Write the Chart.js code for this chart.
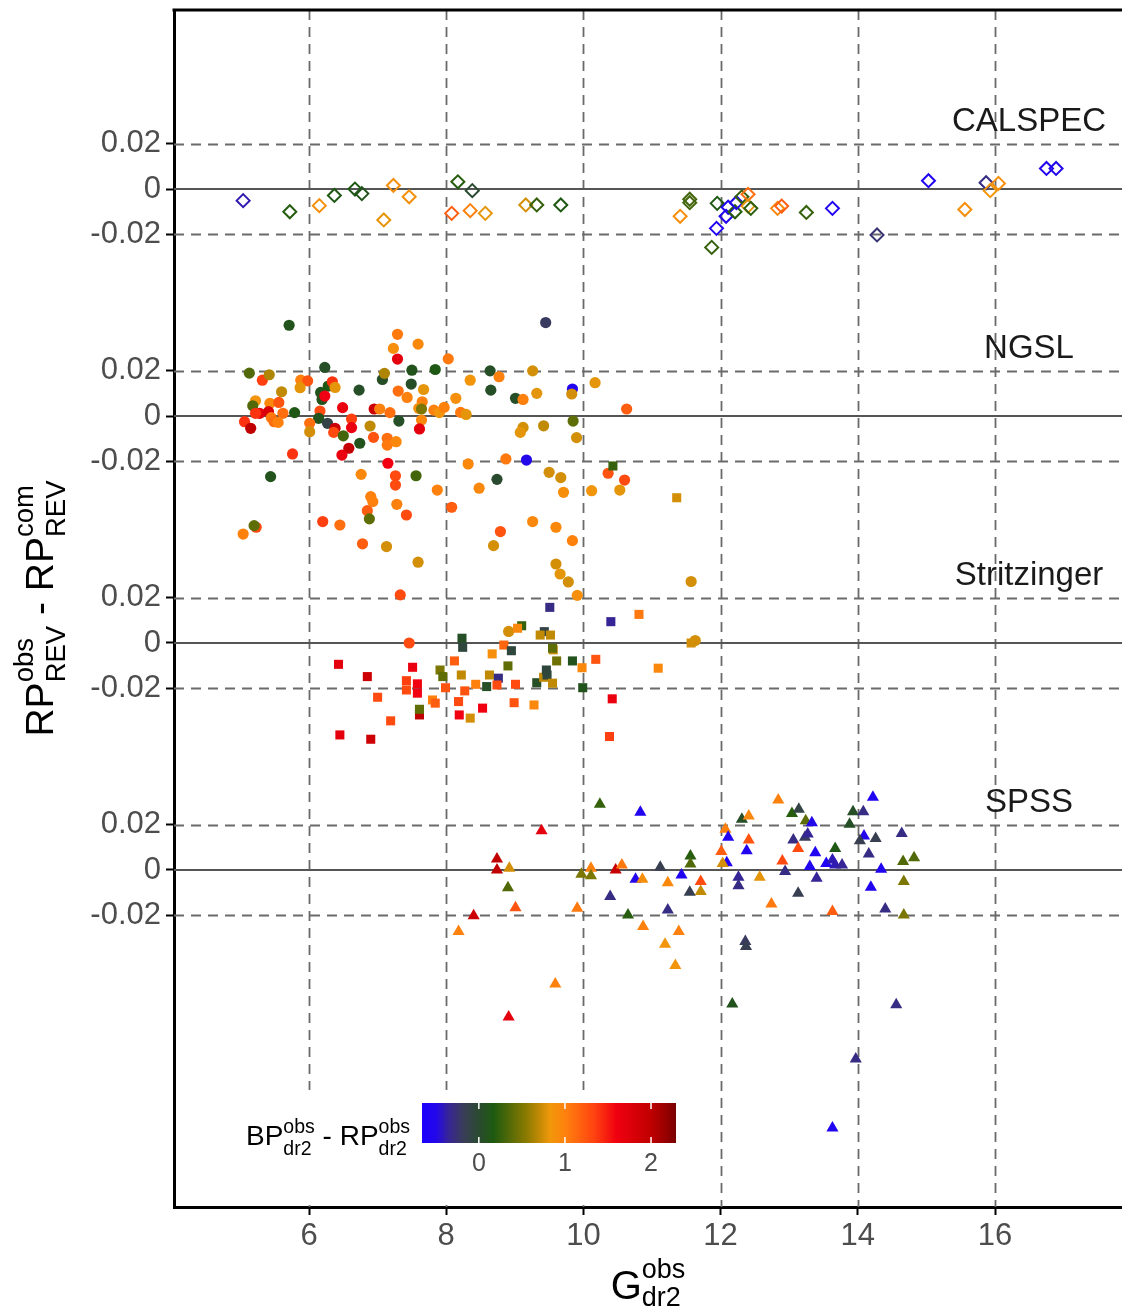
<!DOCTYPE html>
<html>
<head>
<meta charset="utf-8">
<title>RP residuals</title>
<script src="https://cdn.jsdelivr.net/npm/chart.js@4.4.1/dist/chart.umd.min.js"></script>
<style>
  html, body { margin: 0; padding: 0; background: #fff; }
  canvas { display: block; }
</style>
</head>
<body>
<canvas id="resChart" width="1122" height="1312"></canvas>
<script>
// ====================================================
// Data (G mag, residual, BP-RP colour) per library
// ====================================================
const calspecG = [5.04,5.72,6.15,6.37,6.67,6.77,7.23,7.09,7.46,8.17,8.38,8.08,8.35,8.57,9.16,9.32,9.67,11.55,11.55,11.41,11.95,12.11,12.08,11.94,11.87,12.21,12.23,12.31,12.40,12.40,12.44,12.83,12.89,13.25,13.63,14.28,15.03,15.56,15.87,16.05,15.93,16.75,16.89];
const calspecRes = [-0.0051,-0.0100,-0.0073,-0.0028,0.0000,-0.0020,0.0016,-0.0136,-0.0034,0.0032,-0.0007,-0.0107,-0.0095,-0.0107,-0.0070,-0.0070,-0.0070,-0.0045,-0.0060,-0.0120,-0.0063,-0.0080,-0.0120,-0.0173,-0.0257,-0.0100,-0.0060,-0.0034,-0.0023,-0.0075,-0.0085,-0.0085,-0.0075,-0.0103,-0.0085,-0.0202,0.0037,-0.0090,0.0028,0.0025,-0.0007,0.0091,0.0091];
const calspecCol = [-0.4,0.2,0.9,0.15,0.15,0.1,0.9,0.8,0.9,0.2,0.0,1.2,1.0,0.8,0.75,0.25,0.15,0.3,0.3,0.9,0.15,-0.5,-0.55,-0.55,0.25,0.2,-0.5,0.25,1.1,0.8,0.2,0.95,1.2,0.25,-0.55,-0.25,-0.55,0.9,-0.3,0.9,0.85,-0.55,-0.5];

const ngslG = [5.71,7.29,7.59,7.23,7.29,8.03,5.13,5.32,5.42,6.23,5.88,5.98,5.87,5.60,5.22,5.18,5.43,5.56,5.28,5.22,5.41,5.62,5.79,5.06,5.15,5.45,5.49,5.55,5.76,5.44,
  6.17,6.28,6.34,6.38,6.19,6.23,6.16,6.14,6.27,6.01,6.01,6.38,6.36,6.50,6.49,6.62,6.62,6.73,6.74,6.58,6.48,6.95,7.03,7.18,6.89,6.94,7.14,7.14,7.27,7.15,
  7.07,7.10,7.30,7.43,7.49,7.50,7.84,7.67,7.65,7.60,7.64,7.82,7.90,7.97,7.64,7.31,7.61,8.14,8.35,8.21,8.29,8.32,6.76,7.26,7.56,
  7.26,6.90,6.93,6.85,6.88,7.28,7.42,7.87,8.08,5.23,5.20,5.04,6.20,6.45,6.78,7.13,7.59,7.33,
  9.45,8.64,9.26,8.77,8.65,9.01,9.12,9.32,9.84,9.83,10.17,10.63,9.12,9.08,9.42,9.85,9.90,8.87,9.17,8.74,8.48,9.50,9.67,9.71,10.12,10.36,10.60,10.53,
  9.26,9.60,8.79,9.84,8.69,9.60,9.66,9.78,9.91,11.57,7.46,8.91,11.63];
const ngslRes = [0.0400,0.0360,0.0317,0.0298,0.0251,0.0252,0.0189,0.0158,0.0182,0.0214,0.0158,0.0155,0.0125,0.0107,0.0067,0.0045,0.0056,0.0060,0.0012,0.0012,0.0019,0.0012,0.0015,-0.0025,-0.0054,-0.0007,-0.0025,-0.0028,-0.0167,-0.0267,
  0.0104,0.0132,0.0151,0.0126,0.0073,0.0088,0.0022,-0.0010,-0.0032,-0.0032,-0.0069,-0.0054,-0.0072,-0.0087,0.0037,-0.0013,-0.0051,0.0114,-0.0120,-0.0142,-0.0172,0.0031,0.0031,0.0015,-0.0044,-0.0094,-0.0098,-0.0128,-0.0113,-0.0208,
  0.0161,0.0188,0.0110,0.0082,0.0141,0.0202,0.0205,0.0117,0.0063,0.0034,0.0031,0.0026,0.0015,0.0038,-0.0018,-0.0022,-0.0057,0.0078,0.0158,0.0016,0.0007,-0.0211,-0.0257,-0.0263,-0.0263,
  -0.0304,-0.0355,-0.0377,-0.0417,-0.0453,-0.0389,-0.0436,-0.0326,-0.0402,-0.0490,-0.0483,-0.0520,-0.0465,-0.0480,-0.0563,-0.0575,-0.0644,-0.0788,
  0.0412,0.0199,0.0199,0.0173,0.0114,0.0078,0.0073,0.0100,0.0119,0.0097,0.0147,0.0031,-0.0050,-0.0072,-0.0043,-0.0022,-0.0095,-0.0189,-0.0194,-0.0279,-0.0318,-0.0248,-0.0271,-0.0336,-0.0329,-0.0252,-0.0282,-0.0326,
  -0.0465,-0.0490,-0.0509,-0.0549,-0.0571,-0.0652,-0.0696,-0.0731,-0.0790,-0.0729,-0.1000,-0.0949,-0.0989];
const ngslCol = [0.1,1.05,0.95,0.9,1.7,1.05,0.35,1.35,0.65,0.05,1.0,1.25,0.8,0.7,0.85,0.35,0.95,1.25,1.7,1.4,1.8,1.1,0.15,1.4,2.0,1.05,1.1,1.0,1.4,0.1,
  0.1,0.15,1.4,0.8,0.1,1.6,1.3,0.1,-0.1,1.1,0.75,1.9,1.3,0.3,1.65,1.35,1.65,0.05,0.1,1.95,1.65,1.9,1.0,1.1,0.7,1.25,1.1,1.05,0.95,1.6,
  0.05,0.65,1.1,1.0,0.05,0.1,0.15,0.8,1.0,0.9,0.5,1.0,0.85,1.0,0.95,0.05,1.7,0.9,0.85,1.05,0.8,0.95,0.95,1.3,0.3,
  1.3,1.0,1.0,1.2,0.4,1.0,1.3,1.0,1.2,1.3,0.4,1.0,1.35,1.1,1.2,0.75,0.75,1.3,
  -0.2,0.05,0.75,1.0,0.05,0.05,1.0,0.8,-0.55,0.75,0.8,1.2,0.75,0.8,0.7,0.4,0.75,1.05,-0.5,0.0,0.95,0.75,0.75,0.9,0.85,1.25,1.3,0.8,
  0.95,0.95,1.25,1.0,0.75,0.75,0.8,0.75,0.9,0.75,1.3,0.75,0.75];

const stritzG = [9.51,10.40,10.81,9.10,9.04,9.43,9.37,9.52,8.23,8.24,8.84,8.67,8.95,9.56,9.55,9.61,9.84,9.98,10.18,11.09,
  6.43,6.85,7.51,7.42,7.58,7.42,7.58,7.91,7.95,8.12,8.22,7.99,8.27,8.43,8.63,8.76,8.59,8.74,9.01,8.90,
  9.32,9.42,9.46,9.47,9.55,9.99,7.00,7.80,7.84,7.61,7.61,8.18,8.19,8.35,8.53,8.99,9.28,10.42,7.19,6.45,6.90,10.38,10.43,11.36,11.57];
const stritzRes = [0.0157,0.0094,0.0126,0.0076,0.0065,0.0050,0.0035,0.0035,0.0021,-0.0019,-0.0009,-0.0048,-0.0034,-0.0030,-0.0023,-0.0079,-0.0079,-0.0109,-0.0072,-0.0111,
  -0.0094,-0.0148,-0.0107,-0.0166,-0.0180,-0.0207,-0.0221,-0.0119,-0.0148,-0.0079,-0.0141,-0.0197,-0.0211,-0.0182,-0.0141,-0.0155,-0.0192,-0.0185,-0.0182,-0.0101,
  -0.0175,-0.0151,-0.0119,-0.0141,-0.0177,-0.0197,-0.0239,-0.0251,-0.0265,-0.0317,-0.0292,-0.0258,-0.0317,-0.0331,-0.0287,-0.0263,-0.0273,-0.0246,-0.0343,-0.0405,-0.0424,-0.0412,0.0780,0.0640,0.0000];
const stritzCol = [-0.3,-0.35,1.05,0.25,0.95,-0.1,0.7,0.7,0.05,-0.05,1.15,0.9,-0.05,0.7,0.4,0.45,0.1,0.95,1.25,0.95,
  1.7,1.9,1.65,1.35,1.6,1.3,1.6,0.5,0.4,1.2,0.7,1.25,1.25,1.0,0.7,-0.3,0.05,1.3,1.3,0.4,
  0.05,0.7,-0.05,-0.05,0.7,0.1,1.3,1.0,1.2,2.0,0.4,1.3,1.6,0.75,1.6,1.25,0.95,1.65,1.3,1.7,1.9,1.35,0.25,0.75,0.75];

const spssG = [10.24,10.83,9.39,8.74,8.74,8.92,8.90,9.01,8.40,8.18,9.59,8.91,9.91,9.97,10.11,10.11,10.47,10.56,10.39,10.65,
  10.76,10.86,10.87,11.12,11.23,11.23,11.19,11.39,11.34,11.43,11.55,11.71,11.71,11.56,11.56,12.17,12.36,12.37,
  12.31,12.41,12.07,12.11,12.41,12.38,12.01,12.09,12.03,12.26,12.26,12.57,12.74,12.84,12.90,12.94,
  13.04,13.14,13.24,13.33,13.06,13.23,13.27,13.13,13.13,13.38,13.30,13.40,13.54,13.63,13.67,13.67,13.77,13.63,
  13.93,14.08,14.22,13.88,14.09,14.03,14.26,14.16,14.64,14.34,14.19,14.66,14.82,14.67,14.40,14.67,14.56,13.97,13.63];
const spssRes = [0.0290,0.0254,0.0173,0.0048,0.0000,0.0007,-0.0078,-0.0166,-0.0202,-0.0271,-0.0502,-0.0648,-0.0169,-0.0019,0.0007,-0.0026,0.0000,0.0022,-0.0117,-0.0198,
  -0.0041,-0.0041,-0.0249,0.0012,-0.0056,-0.0176,-0.0327,-0.0271,-0.0421,-0.0022,-0.0098,-0.0051,-0.0095,0.0062,0.0026,-0.0591,-0.0315,-0.0337,
  0.0223,0.0238,0.0179,0.0144,0.0132,0.0085,0.0081,0.0032,0.0029,-0.0032,-0.0070,-0.0032,-0.0150,0.0308,0.0040,-0.0007,
  0.0249,0.0268,0.0217,0.0208,0.0132,0.0144,0.0158,0.0095,-0.0103,0.0076,0.0015,-0.0037,0.0029,0.0044,0.0095,0.0022,0.0022,-0.0183,
  0.0257,0.0257,0.0320,0.0201,0.0150,0.0129,0.0139,0.0070,0.0161,0.0003,-0.0076,0.0037,0.0054,-0.0051,-0.0172,-0.0198,-0.0594,-0.0833,-0.1137];
const spssCol = [0.25,-0.55,1.7,2.0,2.0,0.75,0.35,1.25,1.9,1.0,1.0,1.7,1.05,0.5,1.0,0.5,1.95,1.05,-0.3,0.2,
  -0.5,0.9,1.0,-0.15,0.95,-0.3,0.85,1.0,0.85,-0.55,-0.15,1.3,0.7,0.2,0.35,0.1,-0.2,-0.15,
  0.05,0.95,1.0,-0.55,1.25,-0.55,1.2,-0.55,0.75,-0.35,-0.3,0.8,1.05,1.0,1.3,-0.3,
  0.2,-0.1,0.4,-0.5,-0.3,-0.2,-0.35,1.3,-0.15,-0.55,-0.55,-0.35,-0.6,-0.4,0.15,-0.4,-0.35,1.2,
  0.05,-0.3,-0.55,0.05,-0.5,-0.15,-0.15,-0.3,-0.3,-0.55,-0.55,0.35,0.35,0.5,-0.3,0.5,-0.3,-0.3,-0.55];

// panels are stacked with a vertical offset
const panelNames = ['CALSPEC', 'NGSL', 'Stritzinger', 'SPSS'];
const panelOffsets = [0.3, 0.2, 0.1, 0];
const panelTicks = [-0.02, 0, 0.02];
const xTicks = [6, 8, 10, 12, 14, 16];
const colourbarTicks = [0, 1, 2];

// colour scale for BP-RP
const cmapStops = [
  [-0.67, '#1a00ff'], [-0.49, '#2408e8'], [-0.36, '#35249a'], [-0.18, '#3a3d58'],
  [0.0, '#2a4a30'], [0.17, '#1e5a10'], [0.55, '#8a7a00'], [0.83, '#f0980a'],
  [1.01, '#ff800e'], [1.33, '#ff4510'], [1.6, '#f00010'], [2.0, '#c00000'], [2.29, '#7a0000']
];
const cbarMin = -0.66, cbarMax = 2.29;

const FONT = '"Liberation Sans", Arial, Helvetica, sans-serif';

function hexToRgb(h) {
  const n = parseInt(h.slice(1), 16);
  return [(n >> 16) & 255, (n >> 8) & 255, n & 255];
}

function colourFor(v) {
  if (v <= cmapStops[0][0]) return cmapStops[0][1];
  for (let i = 1; i < cmapStops.length; i++) {
    if (v <= cmapStops[i][0]) {
      const [v0, c0] = cmapStops[i - 1];
      const [v1, c1] = cmapStops[i];
      const t = (v - v0) / (v1 - v0);
      const a = hexToRgb(c0), b = hexToRgb(c1);
      const m = a.map((x, k) => Math.round(x + (b[k] - x) * t));
      return `rgb(${m[0]},${m[1]},${m[2]})`;
    }
  }
  return cmapStops[cmapStops.length - 1][1];
}

function buildPoints(gs, res, cols, offset) {
  return gs.map((g, i) => ({ x: g, y: res[i] + offset, c: cols[i] }));
}

// draws text like RP^obs_REV; parts = [[main, sup, sub], ...]
function drawRich(ctx, parts, big, small, supDy, subDy, centred) {
  const bigFont = `${big}px ${FONT}`, smallFont = `${small}px ${FONT}`;
  const widths = parts.map(([m, sp, sb]) => {
    ctx.font = bigFont;
    const wm = ctx.measureText(m).width;
    ctx.font = smallFont;
    const ws = Math.max(sp ? ctx.measureText(sp).width : 0, sb ? ctx.measureText(sb).width : 0);
    return wm + ws;
  });
  const total = widths.reduce((a, b) => a + b, 0);
  let x = centred ? -total / 2 : 0;
  ctx.textAlign = 'left';
  ctx.textBaseline = 'alphabetic';
  parts.forEach(([m, sp, sb], i) => {
    ctx.font = bigFont;
    ctx.fillText(m, x, 0);
    const wm = ctx.measureText(m).width;
    ctx.font = smallFont;
    if (sp) ctx.fillText(sp, x + wm, supDy);
    if (sb) ctx.fillText(sb, x + wm, subDy);
    x += widths[i];
  });
}

// ====================================================
// Grid lines (dashed at +-0.02, solid at each panel zero)
// ====================================================
const gridPlugin = {
  id: 'panelGrid',
  beforeDatasetsDraw(chart) {
    const { ctx, chartArea: a, scales: { x, y } } = chart;
    ctx.save();
    ctx.beginPath();
    ctx.rect(a.left, a.top, a.right - a.left, a.bottom - a.top);
    ctx.clip();

    ctx.strokeStyle = '#6a6a6a';
    ctx.lineWidth = 1.8;
    ctx.setLineDash([10, 7]);
    xTicks.forEach(v => {
      const px = Math.round(x.getPixelForValue(v)) + 0.5;
      ctx.beginPath();
      ctx.moveTo(px, a.top);
      ctx.lineTo(px, a.bottom);
      ctx.stroke();
    });
    panelOffsets.forEach(off => {
      [-0.02, 0.02].forEach(d => {
        const py = Math.round(y.getPixelForValue(off + d)) + 0.5;
        ctx.beginPath();
        ctx.moveTo(a.left, py);
        ctx.lineTo(a.right, py);
        ctx.stroke();
      });
    });

    ctx.setLineDash([]);
    ctx.strokeStyle = '#555';
    ctx.lineWidth = 2.2;
    panelOffsets.forEach(off => {
      const py = Math.round(y.getPixelForValue(off));
      ctx.beginPath();
      ctx.moveTo(a.left, py);
      ctx.lineTo(a.right, py);
      ctx.stroke();
    });
    ctx.restore();
  }
};

// ====================================================
// Panel names, colour bar legend, axis titles, top border
// ====================================================
const overlayPlugin = {
  id: 'overlay',
  afterDatasetsDraw(chart) {
    const { ctx, chartArea: a, scales: { y } } = chart;
    ctx.save();

    // panel names
    ctx.fillStyle = '#1a1a1a';
    ctx.font = `33px ${FONT}`;
    ctx.textAlign = 'center';
    ctx.textBaseline = 'middle';
    panelNames.forEach((name, i) => {
      ctx.fillText(name, 1029, y.getPixelForValue(panelOffsets[i] + 0.0295));
    });

    // legend background
    ctx.fillStyle = '#fff';
    ctx.fillRect(190, 1090, 510, a.bottom - 1092);

    // colour bar
    const bx = 422, by = 1103, bw = 254, bh = 40;
    const grad = ctx.createLinearGradient(bx, 0, bx + bw, 0);
    cmapStops.forEach(([v, c]) => {
      const t = Math.min(1, Math.max(0, (v - cbarMin) / (cbarMax - cbarMin)));
      grad.addColorStop(t, c);
    });
    ctx.fillStyle = grad;
    ctx.fillRect(bx, by, bw, bh);

    ctx.strokeStyle = '#fff';
    ctx.lineWidth = 1.5;
    ctx.fillStyle = '#4d4d4d';
    ctx.font = `25px ${FONT}`;
    ctx.textAlign = 'center';
    ctx.textBaseline = 'middle';
    colourbarTicks.forEach(v => {
      const px = bx + (v - cbarMin) / (cbarMax - cbarMin) * bw;
      ctx.beginPath();
      ctx.moveTo(px, by); ctx.lineTo(px, by + 6);
      ctx.moveTo(px, by + bh - 6); ctx.lineTo(px, by + bh);
      ctx.stroke();
      ctx.fillText(String(v), px, 1164);
    });

    ctx.fillStyle = '#000';
    ctx.save();
    ctx.translate(246, 1145);
    drawRich(ctx, [['BP', 'obs', 'dr2'], [' - ', '', ''], ['RP', 'obs', 'dr2']], 28, 19.5, -12, 10, false);
    ctx.restore();

    ctx.restore();
  },
  afterDraw(chart) {
    const { ctx, chartArea: a } = chart;
    ctx.save();
    // top border
    ctx.strokeStyle = '#000';
    ctx.lineWidth = 3;
    ctx.beginPath();
    ctx.moveTo(a.left - 1.5, a.top);
    ctx.lineTo(a.right, a.top);
    ctx.stroke();

    ctx.fillStyle = '#000';
    // x title
    ctx.save();
    ctx.translate((a.left + a.right) / 2, 1299);
    drawRich(ctx, [['G', 'obs', 'dr2']], 40, 27, -21, 7, true);
    ctx.restore();

    // y title
    ctx.save();
    ctx.translate(53, (a.top + a.bottom) / 2);
    ctx.rotate(-Math.PI / 2);
    drawRich(ctx, [['RP', 'obs', 'REV'], [' - ', '', ''], ['RP', 'com', 'REV']], 39, 27.5, -20, 12, true);
    ctx.restore();

    ctx.restore();
  }
};

// ====================================================
// Chart
// ====================================================
const shapeOf = ['rectRot', 'circle', 'rect', 'triangle'];
const dataSets = [
  buildPoints(calspecG, calspecRes, calspecCol, panelOffsets[0]),
  buildPoints(ngslG, ngslRes, ngslCol, panelOffsets[1]),
  buildPoints(stritzG, stritzRes, stritzCol, panelOffsets[2]),
  buildPoints(spssG, spssRes, spssCol, panelOffsets[3])
];

const canvas = document.getElementById('resChart');
new Chart(canvas, {
  type: 'scatter',
  data: {
    datasets: dataSets.map((pts, i) => ({
      label: panelNames[i],
      data: pts,
      order: 4 - i,
      pointStyle: shapeOf[i],
      pointRadius: [6.5, 5.6, 6.4, 7][i],
      pointBorderWidth: i === 0 ? 2 : 0,
      pointBackgroundColor: i === 0 ? 'rgba(0,0,0,0)' : (c => colourFor(c.raw.c)),
      pointBorderColor: c => colourFor(c.raw.c)
    }))
  },
  options: {
    responsive: false,
    animation: false,
    events: [],
    layout: { autoPadding: false, padding: { top: 10, right: 0, left: 0, bottom: 0 } },
    plugins: {
      legend: { display: false },
      tooltip: { enabled: false }
    },
    scales: {
      x: {
        type: 'linear',
        min: 4.032,
        max: 17.851,
        afterBuildTicks: s => { s.ticks = xTicks.map(v => ({ value: v })); },
        afterFit: s => { s.height = 105; s.paddingLeft = 0; s.paddingRight = 0; },
        grid: { drawOnChartArea: false, drawTicks: true, tickLength: 8, tickColor: '#000', tickWidth: 2 },
        border: { display: true, color: '#000', width: 3 },
        ticks: {
          color: '#4d4d4d',
          font: { size: 31, family: FONT },
          padding: 3,
          maxRotation: 0,
          autoSkip: false,
          callback: v => String(v)
        }
      },
      y: {
        type: 'linear',
        min: -0.1485,
        max: 0.3789,
        afterBuildTicks: s => {
          const t = [];
          panelOffsets.forEach(off => panelTicks.forEach(d => t.push({ value: off + d })));
          s.ticks = t;
        },
        afterFit: s => { s.width = 174; s.paddingTop = 0; s.paddingBottom = 0; },
        grid: { drawOnChartArea: false, drawTicks: true, tickLength: 8, tickColor: '#000', tickWidth: 2 },
        border: { display: true, color: '#000', width: 3 },
        ticks: {
          color: '#4d4d4d',
          font: { size: 31, family: FONT },
          padding: 5,
          autoSkip: false,
          callback: v => {
            const off = Math.round(v * 10) / 10;
            const r = Math.round((v - off) * 100) / 100;
            return r === 0 ? '0' : r.toFixed(2);
          }
        }
      }
    }
  },
  plugins: [gridPlugin, overlayPlugin]
});
</script>
</body>
</html>
